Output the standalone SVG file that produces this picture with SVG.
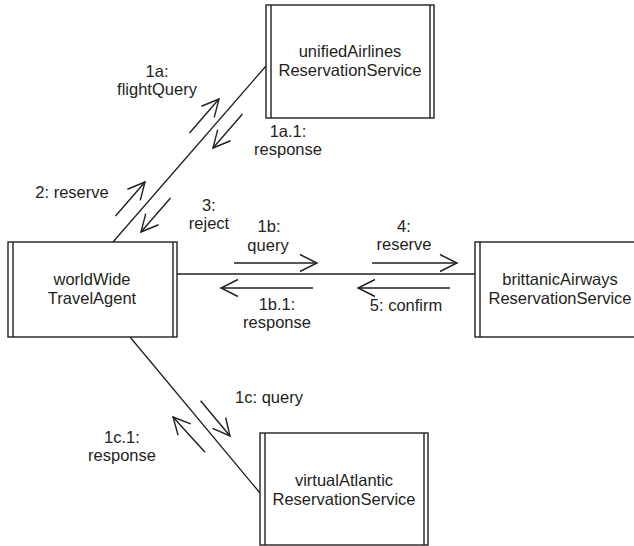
<svg xmlns="http://www.w3.org/2000/svg" width="634" height="546" viewBox="0 0 634 546">
<defs>
<marker id="ah" markerUnits="userSpaceOnUse" markerWidth="20" markerHeight="20" viewBox="-18 -10 20 20" refX="0" refY="0" orient="auto">
<path d="M-17,-8.5 L0,0 L-17,8.5" fill="none" stroke="#231f20" stroke-width="1.4"/>
</marker>
</defs>
<style>
.box{fill:#fff;stroke:#231f20;stroke-width:1.4}
.bar{stroke:#231f20;stroke-width:1.4}
.conn{stroke:#231f20;stroke-width:1.3;fill:none}
.msg{stroke:#231f20;stroke-width:1.4;fill:none;marker-end:url(#ah)}
text{font-family:"Liberation Sans",Arial,sans-serif;font-size:16.5px;fill:#231f20;text-anchor:middle}
</style>
<rect width="634" height="546" fill="#fff"/>
<g id="connectors">
<line class="conn" x1="113" y1="242" x2="266" y2="66"/>
<line class="conn" x1="177" y1="274" x2="475" y2="274"/>
<line class="conn" x1="130" y1="337" x2="260" y2="493"/>
<line class="msg" x1="189.5" y1="133" x2="219" y2="99"/>
<line class="msg" x1="242.5" y1="114" x2="213" y2="148"/>
<line class="msg" x1="115.5" y1="216" x2="145" y2="182"/>
<line class="msg" x1="170.5" y1="198" x2="141" y2="232"/>
<line class="msg" x1="234" y1="263" x2="317" y2="263"/>
<line class="msg" x1="372" y1="263" x2="457" y2="263"/>
<line class="msg" x1="313" y1="288" x2="221" y2="288"/>
<line class="msg" x1="450" y1="288" x2="358" y2="288"/>
<line class="msg" x1="200.6" y1="400.7" x2="230" y2="436"/>
<line class="msg" x1="205" y1="452.3" x2="173" y2="417"/>
<text x="157" y="77">1a:</text>
<text x="157" y="95">flightQuery</text>
<text x="288" y="137">1a.1:</text>
<text x="288" y="155">response</text>
<text x="72" y="198">2: reserve</text>
<text x="209" y="211">3:</text>
<text x="209" y="229">reject</text>
<text x="269" y="232">1b:</text>
<text x="268" y="251">query</text>
<text x="404" y="232">4:</text>
<text x="404" y="250">reserve</text>
<text x="277" y="310">1b.1:</text>
<text x="277" y="328">response</text>
<text x="406" y="311">5: confirm</text>
<text x="269" y="403">1c: query</text>
<text x="122" y="443">1c.1:</text>
<text x="122" y="461">response</text>
</g>
<g id="unifiedAirlines">
<rect class="box" x="266" y="5" width="168" height="113"/>
<line class="bar" x1="271" y1="5" x2="271" y2="118"/>
<line class="bar" x1="430" y1="5" x2="430" y2="118"/>
<text x="350" y="57">unifiedAirlines</text>
<text x="350" y="76">ReservationService</text>
</g>
<g id="worldWide">
<rect class="box" x="8" y="242" width="169" height="95"/>
<line class="bar" x1="13" y1="242" x2="13" y2="337"/>
<line class="bar" x1="173" y1="242" x2="173" y2="337"/>
<text x="92" y="285">worldWide</text>
<text x="92" y="304">TravelAgent</text>
</g>
<g id="brittanicAirways">
<rect class="box" x="475" y="242" width="175" height="95"/>
<line class="bar" x1="480" y1="242" x2="480" y2="337"/>
<text x="560" y="285">brittanicAirways</text>
<text x="560" y="304">ReservationService</text>
</g>
<g id="virtualAtlantic">
<rect class="box" x="260" y="433" width="168" height="112"/>
<line class="bar" x1="265" y1="433" x2="265" y2="545"/>
<line class="bar" x1="424" y1="433" x2="424" y2="545"/>
<text x="344" y="486">virtualAtlantic</text>
<text x="344" y="505">ReservationService</text>
</g>
</svg>
